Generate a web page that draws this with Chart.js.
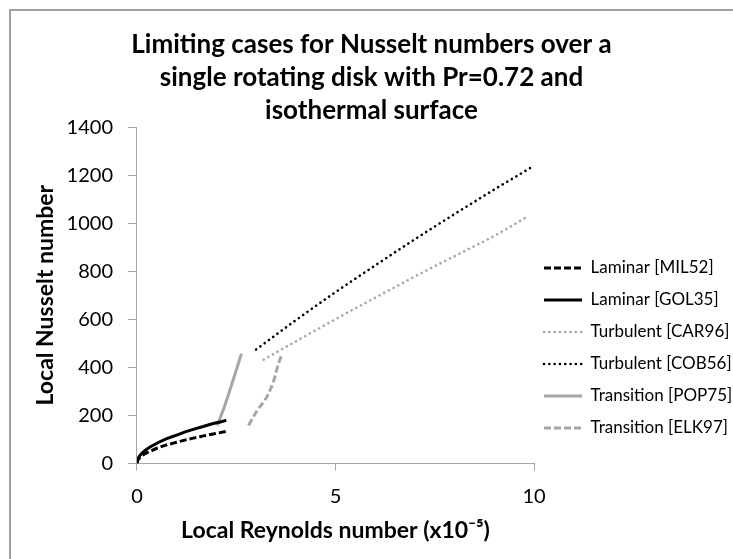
<!DOCTYPE html>
<html><head><meta charset="utf-8">
<script src="https://cdn.jsdelivr.net/npm/chart.js@4/dist/chart.umd.min.js"></script>
<style>
html,body{margin:0;padding:0;background:#fff;overflow:hidden}
#wrap{position:relative;width:733px;height:559px;overflow:hidden}
#frame{position:absolute;left:9px;top:9px;width:800px;height:600px;border-left:2px solid #a0a0a0;border-top:2px solid #a0a0a0;pointer-events:none}
canvas{position:absolute;left:0;top:0}
</style></head><body>
<div id="wrap"><canvas id="c" width="733" height="559"></canvas><div id="frame"></div></div>
<script>
// ---- data (Re in units of 1e5, Nu) ----
const titleLines = ['Limiting cases for Nusselt numbers over a', 'single rotating disk with Pr=0.72 and', 'isothermal surface'];
const xTitle = 'Local Reynolds number (x10\u207B\u2075)';
const yTitle = 'Local Nusselt number';
const xTicks = [0, 5, 10];
const yTicks = [0, 200, 400, 600, 800, 1000, 1200, 1400];

const reLaminar = [0, 0.02, 0.05, 0.1, 0.2, 0.35, 0.5, 0.75, 1.0, 1.25, 1.5, 1.75, 2.0, 2.25];
const nuMIL52   = [0, 12, 20, 28, 40, 52, 63, 77, 88, 99, 108, 117, 125, 133];
const nuGOL35   = [0, 17, 27, 38, 53, 70, 84, 103, 118, 133, 146, 158, 169, 179];

const reCAR96 = [3.19, 4, 5, 6, 7, 8, 9, 9.82];
const nuCAR96 = [432, 508, 600, 690, 778, 863, 947, 1026];

const reCOB56 = [3.0, 4, 5, 6, 7, 8, 9, 9.9];
const nuCOB56 = [474, 596, 713, 824, 933, 1038, 1140, 1229];

const rePOP75 = [2.02, 2.18, 2.31, 2.47, 2.63];
const nuPOP75 = [158, 226, 290, 372, 457];

const reELK97 = [2.81, 3.02, 3.28, 3.44, 3.57, 3.64];
const nuELK97 = [158, 218, 280, 342, 419, 449];

const seriesLabels = ['Laminar [MIL52]', 'Laminar [GOL35]', 'Turbulent [CAR96]', 'Turbulent [COB56]', 'Transition [POP75]', 'Transition [ELK97]'];

// ---- build ----
const pts = (xs, ys) => xs.map((x, i) => ({x: x, y: ys[i]}));
const BLACK = '#000000', GREY = '#a6a6a6';
const FONT = 'Lato';
const DASH = [7, 3], DOT = [0.1, 5.2];

function ds(label, data, color, dash, cap, width) {
  return {label, data, borderColor: color, backgroundColor: color, borderWidth: width,
    borderDash: dash, borderCapStyle: cap, pointRadius: 0, pointHoverRadius: 0,
    cubicInterpolationMode: 'monotone', fill: false};
}

const datasets = [
  ds(seriesLabels[0], pts(reLaminar, nuMIL52), BLACK, DASH, 'butt', 3),
  ds(seriesLabels[1], pts(reLaminar, nuGOL35), BLACK, [], 'butt', 3),
  ds(seriesLabels[2], pts(reCAR96, nuCAR96), GREY, DOT, 'round', 2.6),
  ds(seriesLabels[3], pts(reCOB56, nuCOB56), BLACK, DOT, 'round', 2.6),
  ds(seriesLabels[4], pts(rePOP75, nuPOP75), GREY, [], 'butt', 3),
  ds(seriesLabels[5], pts(reELK97, nuELK97), GREY, DASH, 'butt', 3)
];

const legendShift = {
  id: 'legendShift',
  afterLayout(chart) {
    const l = chart.legend; if (!l) return;
    l.left -= 5; l.right = chart.width; l.top += 74; l.bottom += 74;
  }
};

new Chart(document.getElementById('c'), {
  type: 'line',
  data: {datasets},
  options: {
    responsive: false, animation: false, devicePixelRatio: 1,
    layout: {padding: {left: 10, right: 0, top: 0, bottom: 11}},
    plugins: {
      title: {display: true, text: titleLines, color: '#000',
        font: {family: FONT, size: 26, weight: 'bold', lineHeight: 1.27},
        padding: {top: 28, bottom: 0}},
      legend: {position: 'right', maxWidth: 199,
        labels: {usePointStyle: true, pointStyle: 'line', pointStyleWidth: 38, padding: 15,
          color: '#000', font: {family: FONT, size: 17},
          generateLabels(chart) {
            return chart.data.datasets.map((d, i) => ({
              text: d.label, fillStyle: d.borderColor, strokeStyle: d.borderColor,
              lineWidth: d.borderWidth, lineDash: d.borderDash, lineCap: d.borderCapStyle,
              pointStyle: 'line', rotation: 0, hidden: false, datasetIndex: i, fontColor: '#000'
            }));
          }}},
      tooltip: {enabled: false}
    },
    scales: {
      x: {type: 'linear', min: 0, max: 10,
        afterBuildTicks(s) { s.ticks = xTicks.map(v => ({value: v})); },
        ticks: {color: '#000', font: {family: FONT, size: 20}, padding: 14, maxRotation: 0,
          callback: v => String(v)},
        grid: {drawOnChartArea: false, drawTicks: true, tickLength: 7, color: '#a6a6a6'},
        border: {color: '#a6a6a6', width: 1},
        title: {display: true, text: xTitle, color: '#000', font: {family: FONT, size: 23, weight: 'bold'}, padding: {top: -6, bottom: 4}}},
      y: {type: 'linear', min: 0, max: 1400,
        afterBuildTicks(s) { s.ticks = yTicks.map(v => ({value: v})); },
        ticks: {color: '#000', font: {family: FONT, size: 20}, padding: 15,
          callback: v => String(v)},
        grid: {drawOnChartArea: false, drawTicks: true, tickLength: 9, color: '#a6a6a6'},
        border: {color: '#a6a6a6', width: 1},
        title: {display: true, text: yTitle, color: '#000', font: {family: FONT, size: 23, weight: 'bold'}, padding: {top: 22, bottom: -8}}}
    }
  },
  plugins: [legendShift]
});
</script>
</body></html>
